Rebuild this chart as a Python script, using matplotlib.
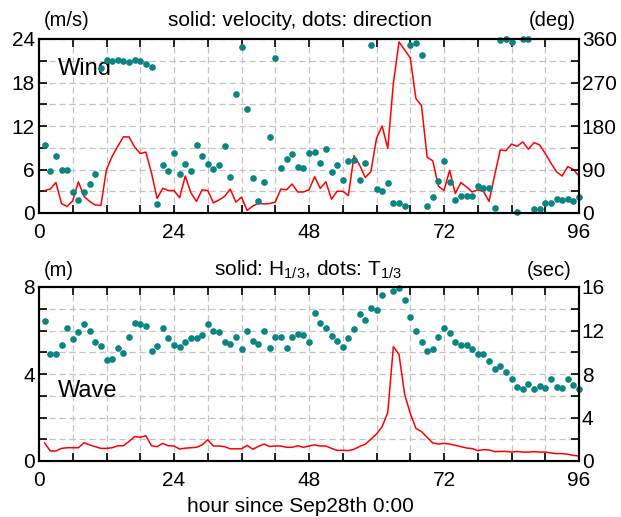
import numpy as np
import matplotlib
matplotlib.use("Agg")
import matplotlib.pyplot as plt
from matplotlib.ticker import MultipleLocator

plt.rcParams['font.family'] = ['Liberation Sans', 'DejaVu Sans']
plt.rcParams['mathtext.fontset'] = 'custom'
plt.rcParams['mathtext.rm'] = 'Liberation Sans'

hours = np.arange(1, 97)

# wind speed (m/s)
wind_speed = [3.1, 3.3, 4.2, 1.3, 0.9, 1.7, 4.3, 2.3, 1.6, 1.1, 1.05, 6.0,
              7.8, 9.2, 10.5, 10.5, 9.1, 8.2, 8.4, 5.5, 2.0, 3.4, 3.1, 3.1,
              2.1, 5.1, 2.8, 1.6, 3.2, 3.1, 1.4, 1.8, 2.3, 3.3, 1.5, 2.2,
              0.35, 0.95, 1.35, 1.25, 1.3, 1.5, 3.3, 3.2, 4.0, 2.9, 2.9, 3.2,
              5.0, 3.4, 4.3, 1.9, 3.0, 3.0, 2.4, 7.9, 6.6, 4.9, 5.7, 10.3,
              12.0, 8.9, 17.9, 23.6, 22.5, 21.4, 15.8, 14.8, 7.7, 7.2, 3.7, 3.1,
              5.9, 2.7, 4.2, 3.6, 2.9, 3.2, 3.0, 1.6, 5.2, 8.7,
              8.6, 9.5, 9.2, 9.8, 8.8, 9.7, 9.4, 8.2, 6.9, 5.7, 5.1, 6.4,
              6.0, 5.1]

# wind direction (deg)
wind_dir = [141, 87, 117, 89, 89, 43, 26, 43, 61, 80, 300, 317,
            315, 317, 315, 312, 317, 314, 309, 303, 18, 100, 86, 125,
            80, 102, 87, 141, 118, 102, 92, 100, 138, 75, 246, 344,
            216, 72, 24, 65, 158, 321, 93, 111, 122, 96, 94, 125,
            126, 103, 133, 84, 100, 68, 108, 110, 69, 103, 347, 50,
            46, 63, 20, 20, 15, 347, 351, 327, 15, 33, 66, 108,
            65, 26, 36, 36, 35, 55, 51, 51, 11, 358,
            360, 353, 2, 360, 360, 9, 9, 20, 21, 28, 27, 29,
            25, 33]

# significant wave height (m)
wave_h = [0.83, 0.46, 0.46, 0.58, 0.61, 0.61, 0.61, 0.84, 0.74, 0.66, 0.58, 0.58,
          0.61, 0.70, 0.70, 0.90, 1.12, 1.09, 1.16, 0.70, 0.66, 0.81, 0.70, 0.69,
          0.55, 0.59, 0.61, 0.63, 0.74, 0.98, 0.69, 0.69, 0.66, 0.56, 0.56, 0.56,
          0.72, 0.54, 0.67, 0.78, 0.67, 0.69, 0.69, 0.63, 0.63, 0.70, 0.63, 0.69,
          0.74, 0.69, 0.69, 0.58, 0.49, 0.49, 0.48, 0.54, 0.67, 0.77, 1.00, 1.24,
          1.58, 2.22, 5.26, 4.90, 3.07, 2.19, 1.50, 1.35, 1.09, 0.83, 0.78, 0.81,
          0.78, 0.72, 0.66, 0.60, 0.57, 0.48, 0.52, 0.51, 0.43, 0.44, 0.44, 0.41,
          0.44, 0.41, 0.41, 0.43, 0.41, 0.41, 0.37, 0.34, 0.34, 0.31, 0.26, 0.23]

# significant wave period (sec)
wave_t = [12.9, 9.85, 9.85, 10.7, 12.2, 11.2, 11.9, 12.6, 12.0, 10.9, 10.6, 9.3,
          9.4, 10.4, 9.9, 11.4, 12.7, 12.6, 12.4, 10.1, 10.6, 12.2, 11.3, 10.7,
          10.5, 10.9, 11.3, 11.3, 11.6, 12.6, 12.0, 11.9, 10.9, 10.8, 11.4, 10.3,
          12.0, 11.0, 10.8, 12.0, 10.4, 11.4, 11.4, 10.4, 11.4, 11.7, 11.6, 10.9,
          13.65, 12.7, 12.2, 11.5, 11.0, 10.5, 11.3, 12.1, 13.5, 13.0, 14.1, 13.9,
          15.3, np.nan, 15.6, 15.9, 14.8, 13.25, 12.0, 10.9, 10.1, 10.3, 11.4, 12.2,
          11.75, 10.9, 10.7, 10.7, 10.3, 9.8, 9.8, 9.2, 8.5, 8.7, 8.2, 7.5,
          6.8, 6.6, 7.1, 6.6, 6.9, 6.7, 7.5, 6.8, 6.75, 7.5, 7.0, 6.65]

dot_color = '#0a8583'
grid_kw = dict(color='#c4c4c4', linestyle=(0, (5, 3)), linewidth=0.9)

fig = plt.figure(figsize=(6.21, 5.17), dpi=100)
ax1 = fig.add_axes([39 / 621, 1 - 213 / 517, 540 / 621, 174 / 517])
ax2 = fig.add_axes([39 / 621, 1 - 461 / 517, 540 / 621, 174 / 517])


def style(ax, ymax, ystep_major, ystep_minor):
    ax.set_xlim(0, 96)
    ax.set_ylim(0, ymax)
    ax.xaxis.set_major_locator(MultipleLocator(24))
    ax.xaxis.set_minor_locator(MultipleLocator(6))
    ax.yaxis.set_major_locator(MultipleLocator(ystep_major))
    ax.yaxis.set_minor_locator(MultipleLocator(ystep_minor))
    ax.grid(True, which='both', **grid_kw)
    ax.set_axisbelow(True)
    ax.tick_params(which='both', direction='in', top=True, labelsize=15)
    ax.tick_params(axis='x', pad=7)
    ax.tick_params(axis='y', pad=3)
    ax.tick_params(which='both', length=6, width=1.2)
    for s in ax.spines.values():
        s.set_linewidth(1.5)


style(ax1, 24, 6, 3)
style(ax2, 8, 4, 1)

ax1.plot(hours, wind_speed, color='red', lw=1.1, zorder=3)
ax2.plot(hours, wave_h, color='red', lw=1.1, zorder=3)

ax1r = ax1.twinx()
ax1r.set_ylim(0, 360)
ax1r.yaxis.set_major_locator(MultipleLocator(90))
ax1r.yaxis.set_minor_locator(MultipleLocator(45))
ax1r.plot(hours, wind_dir, 'o', color=dot_color, ms=4.8, mec='none', clip_on=False)

ax2r = ax2.twinx()
ax2r.set_ylim(0, 16)
ax2r.yaxis.set_major_locator(MultipleLocator(4))
ax2r.yaxis.set_minor_locator(MultipleLocator(2))
ax2r.plot(hours, wave_t, 'o', color=dot_color, ms=4.8, mec='none', clip_on=False)

for axr in (ax1r, ax2r):
    axr.tick_params(which='both', direction='in', labelsize=15, pad=2)
    axr.tick_params(which='both', length=6, width=1.2)
    for s in axr.spines.values():
        s.set_linewidth(1.5)

ax1.text(0.035, 0.83, 'Wind', transform=ax1.transAxes, fontsize=17, va='center')
ax2.text(0.035, 0.40, 'Wave', transform=ax2.transAxes, fontsize=17, va='center')

fig.text(44 / 621, 1 - 21 / 517, '(m/s)', fontsize=14.5, va='center')
fig.text(300 / 621, 1 - 20 / 517, 'solid: velocity, dots: direction', fontsize=15,
         va='center', ha='center')
fig.text(576 / 621, 1 - 21 / 517, '(deg)', fontsize=14.5, va='center', ha='right')

fig.text(44 / 621, 1 - 270 / 517, '(m)', fontsize=14.5, va='center')
fig.text(308 / 621, 1 - 270 / 517,
         r'solid: H$_{\mathregular{1/3}}$, dots: T$_{\mathregular{1/3}}$',
         fontsize=15, va='center', ha='center')
fig.text(572 / 621, 1 - 270 / 517, '(sec)', fontsize=14.5, va='center', ha='right')

fig.text(300 / 621, 1 - 506 / 517, 'hour since Sep28th 0:00', fontsize=15,
         va='center', ha='center')

fig.savefig('out.png', dpi=100)
